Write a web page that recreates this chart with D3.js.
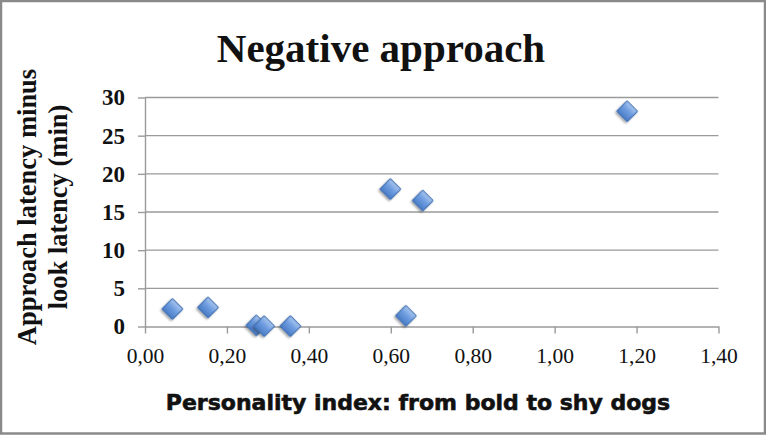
<!DOCTYPE html>
<html>
<head>
<meta charset="utf-8">
<script src="https://cdn.jsdelivr.net/npm/d3@7"></script>
<style>
html,body{margin:0;padding:0;background:#fff;}
svg{display:block;}
</style>
</head>
<body>
<script>
// Data
const personality = [0.067, 0.154, 0.272, 0.291, 0.355, 0.599, 0.678, 0.637, 1.177];
const latency     = [2.3, 2.5, 0.15, 0.05, 0.05, 18.0, 16.5, 1.4, 28.2];
const xTicks = [0, 0.2, 0.4, 0.6, 0.8, 1.0, 1.2, 1.4];
const yTicks = [0, 5, 10, 15, 20, 25, 30];
const titleText = "Negative approach";
const xTitle = "Personality index: from bold to shy dogs";
const yTitleLines = ["Approach latency minus", "look latency (min)"];

const W = 766, H = 435;
const svg = d3.select("body").append("svg").attr("width", W).attr("height", H);

const defs = svg.append("defs");
const grad = defs.append("linearGradient").attr("id","dg").attr("x1","0").attr("y1","0").attr("x2","0").attr("y2","1");
grad.append("stop").attr("offset","0%").attr("stop-color","#a9c6ee");
grad.append("stop").attr("offset","45%").attr("stop-color","#6f9de0");
grad.append("stop").attr("offset","100%").attr("stop-color","#4a7cc6");
const flt = defs.append("filter").attr("id","sh").attr("x","-50%").attr("y","-50%").attr("width","200%").attr("height","200%");
flt.append("feGaussianBlur").attr("in","SourceAlpha").attr("stdDeviation","1.2");
flt.append("feOffset").attr("dx","0").attr("dy","2").attr("result","ob");
flt.append("feComponentTransfer").append("feFuncA").attr("type","linear").attr("slope","0.35");
const fm = flt.append("feMerge");
fm.append("feMergeNode");
fm.append("feMergeNode").attr("in","SourceGraphic");

// background + border
svg.append("rect").attr("x",1).attr("y",1).attr("width",W-2).attr("height",H-2.5)
  .attr("fill","#fff").attr("stroke","#8a8a8a").attr("stroke-width",2.5);

const x = d3.scaleLinear().domain([0, 1.4]).range([145, 718.5]);
const y = d3.scaleLinear().domain([0, 30]).range([326.5, 97.5]);

// gridlines
svg.append("g").selectAll("line").data(yTicks.filter(d => d > 0)).join("line")
  .attr("x1", x(0)).attr("x2", x(1.4))
  .attr("y1", d => y(d)).attr("y2", d => y(d))
  .attr("stroke", "#9a9a9a").attr("stroke-width", 1.4);

// x axis
const fmt = d => d3.format(".2f")(d).replace(".", ",");
const xAxis = svg.append("g").attr("transform", `translate(0,${y(0)})`)
  .call(d3.axisBottom(x).tickValues(xTicks).tickFormat(fmt).tickSize(7).tickPadding(14).tickSizeOuter(0));
xAxis.select(".domain").attr("stroke", "#9a9a9a").attr("stroke-width", 1.4);
xAxis.selectAll(".tick line").attr("stroke", "#9a9a9a").attr("stroke-width", 1.4);
xAxis.selectAll("text").attr("font-family", "'Liberation Serif', serif").attr("font-size", 21.5)
  .attr("fill", "#111").attr("dy", "0.71em");

// y axis
const yAxis = svg.append("g").attr("transform", `translate(${x(0)},0)`)
  .call(d3.axisLeft(y).tickValues(yTicks).tickSize(7).tickPadding(13).tickSizeOuter(0));
yAxis.select(".domain").attr("stroke", "#9a9a9a").attr("stroke-width", 1.4);
yAxis.selectAll(".tick line").attr("stroke", "#9a9a9a").attr("stroke-width", 1.4);
yAxis.selectAll("text").attr("font-family", "'Liberation Serif', serif").attr("font-size", 23)
  .attr("font-weight", "bold").attr("fill", "#111");

// points
const data = personality.map((p, i) => ({ x: p, y: latency[i] }));
const sym = d3.symbol().type(d3.symbolSquare).size(215);
svg.append("g").selectAll("path").data(data).join("path")
  .attr("d", sym)
  .attr("transform", d => `translate(${x(d.x)},${y(d.y)}) rotate(45)`)
  .attr("fill", "url(#dg)").attr("stroke", "#3d6db0").attr("stroke-width", 1)
  .attr("filter", "url(#sh)");

// title
svg.append("text").attr("x", 381).attr("y", 62).attr("text-anchor", "middle")
  .attr("font-family", "'Liberation Serif', serif").attr("font-weight", "bold").attr("font-size", 41)
  .attr("fill", "#111").text(titleText);

// x title
svg.append("text").attr("x", 418).attr("y", 410).attr("text-anchor", "middle")
  .attr("font-family", "'DejaVu Sans', sans-serif").attr("font-weight", "bold").attr("font-size", 22)
  .attr("fill", "#111").attr("stroke", "#111").attr("stroke-width", 0.6).text(xTitle);

// y title
const yt = svg.append("g").attr("transform", "translate(0,207) rotate(-90)");
yt.selectAll("text").data(yTitleLines).join("text")
  .attr("x", 0).attr("y", (d, i) => 36 + i * 31)
  .attr("text-anchor", "middle")
  .attr("font-family", "'Liberation Serif', serif").attr("font-weight", "bold").attr("font-size", 26.5)
  .attr("fill", "#111").text(d => d);
</script>
</body>
</html>
